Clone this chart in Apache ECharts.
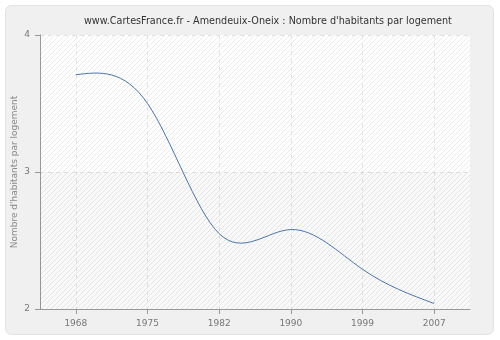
<!DOCTYPE html>
<html><head><meta charset="utf-8">
<script src="https://cdn.jsdelivr.net/npm/echarts@6/dist/echarts.min.js"></script>
<style>html,body{margin:0;padding:0;background:#fff}#c{width:500px;height:340px}</style>
</head><body><div id="c"></div>
<script>
var years = ['1968','1975','1982','1990','1999','2007'];
var values = [3.71, 3.50, 2.55, 2.58, 2.29, 2.04];
var yTicks = [2, 3, 4];

// natural cubic spline slopes (index space) so the curve passes through each value
function splineSlopes(y) {
  var n = y.length, M = new Array(n).fill(0);
  if (n > 2) {
    var c = [], d = [];
    for (var i = 1; i < n - 1; i++) {
      var rhs = 6 * (y[i + 1] - 2 * y[i] + y[i - 1]);
      if (i === 1) { c[i] = 1 / 4; d[i] = rhs / 4; }
      else { var den = 4 - c[i - 1]; c[i] = 1 / den; d[i] = (rhs - d[i - 1]) / den; }
    }
    for (var j = n - 2; j >= 1; j--) M[j] = d[j] - (j < n - 2 ? c[j] * M[j + 1] : 0);
  }
  var s = [];
  for (var k = 0; k < n; k++) {
    if (k < n - 1) s[k] = (y[k + 1] - y[k]) - (2 * M[k] + M[k + 1]) / 6;
    else s[k] = (y[k] - y[k - 1]) + (M[k - 1] + 2 * M[k]) / 6;
  }
  return s;
}
var slopes = splineSlopes(values);

var pc = document.createElement('canvas');
pc.width = 5; pc.height = 5;
var g = pc.getContext('2d');
g.fillStyle = '#ffffff'; g.fillRect(0, 0, 5, 5);
g.strokeStyle = '#ebebeb'; g.lineWidth = 1;
g.beginPath(); g.moveTo(0, 5); g.lineTo(5, 0); g.stroke();
g.beginPath(); g.moveTo(-1, 1); g.lineTo(1, -1); g.stroke();
g.beginPath(); g.moveTo(4, 6); g.lineTo(6, 4); g.stroke();

var idx = years.map(function (_, i) { return i; });
var font = 'DejaVu Sans';

var chart = echarts.init(document.getElementById('c'));
chart.setOption({
  backgroundColor: '#ffffff',
  animation: false,
  graphic: [{
    type: 'rect', z: -10, silent: true,
    shape: {x: 5.5, y: 5.5, width: 488, height: 329, r: 6},
    style: {fill: '#f0f0f0', stroke: '#e2e2e2', lineWidth: 1}
  }],
  title: {
    text: "www.CartesFrance.fr - Amendeuix-Oneix : Nombre d'habitants par logement",
    left: 79, top: 11,
    textStyle: {fontFamily: font, fontSize: 9.65, fontWeight: 'normal', color: '#333'}
  },
  grid: {left: 40, right: 30, top: 35, bottom: 31, show: true, containLabel: false,
    outerBoundsMode: 'none',
    backgroundColor: {image: pc, repeat: 'repeat'}, borderWidth: 0},
  xAxis: {
    type: 'value', min: -0.5, max: 5.5,
    axisLine: {onZero: false, lineStyle: {color: '#999'}},
    axisTick: {show: true, customValues: idx, length: 5, lineStyle: {color: '#999'}},
    axisLabel: {customValues: idx, color: '#777', fontFamily: font, fontSize: 9, margin: 10,
      formatter: function (v) { return years[Math.round(v)]; }},
    splitLine: {show: true, lineStyle: {color: '#e2e2e2', type: [4, 4]}}
  },
  yAxis: {
    type: 'value', min: yTicks[0], max: yTicks[yTicks.length - 1], interval: 1,
    position: 'left',
    name: "Nombre d'habitants par logement", nameLocation: 'middle', nameGap: 21,
    nameMoveOverlap: false,
    nameTextStyle: {color: '#888', fontFamily: font, fontSize: 9},
    axisLine: {show: true, onZero: false, lineStyle: {color: '#999'}},
    axisTick: {show: true, length: 5, lineStyle: {color: '#999'}},
    axisLabel: {color: '#777', fontFamily: font, fontSize: 9, margin: 10},
    splitLine: {show: true, lineStyle: {color: '#e2e2e2', type: [4, 4]}}
  },
  series: [{
    type: 'line', data: [], silent: true,
    markArea: {silent: true, itemStyle: {color: 'rgba(0,0,0,0.025)'},
      data: [[{yAxis: yTicks[0]}, {yAxis: yTicks[1]}]]}
  }, {
    type: 'custom', silent: true, z: 5,
    data: values.map(function (v, i) { return [i, v]; }),
    renderItem: function (params, api) {
      var i = params.dataIndex;
      if (i >= values.length - 1) return null;
      var p0 = api.coord([i, values[i]]);
      var p1 = api.coord([i + 1, values[i + 1]]);
      var c1 = api.coord([i + 1 / 3, values[i] + slopes[i] / 3]);
      var c2 = api.coord([i + 2 / 3, values[i + 1] - slopes[i + 1] / 3]);
      return {
        type: 'bezierCurve',
        shape: {x1: p0[0], y1: p0[1], x2: p1[0], y2: p1[1],
          cpx1: c1[0], cpy1: c1[1], cpx2: c2[0], cpy2: c2[1]},
        style: {stroke: '#4a76aa', lineWidth: 1, fill: null}
      };
    }
  }]
});
</script></body></html>
